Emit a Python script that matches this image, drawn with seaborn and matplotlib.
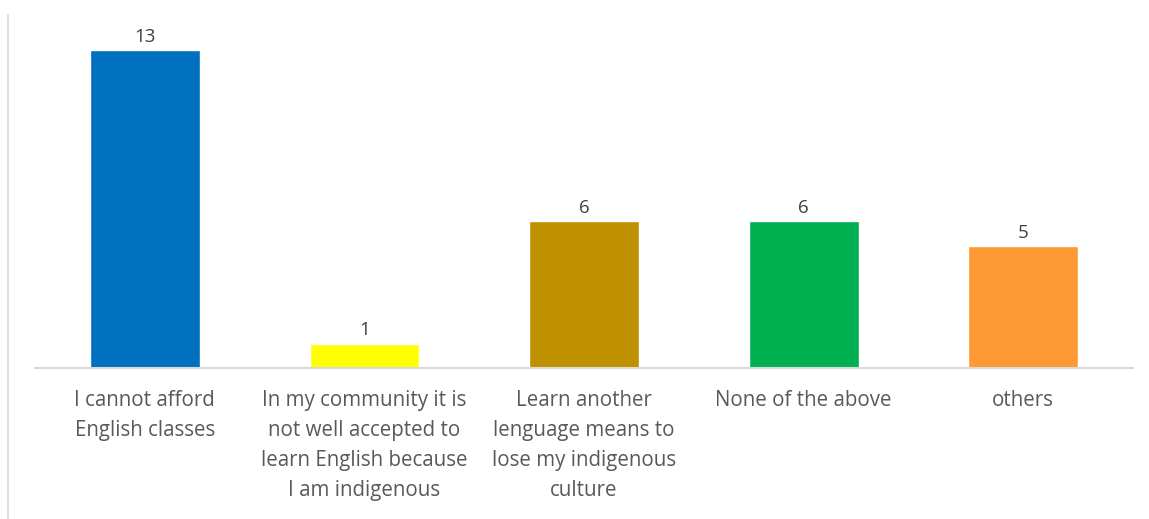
import matplotlib
matplotlib.use("Agg")
import matplotlib.pyplot as plt
import seaborn as sns
import pandas as pd
from matplotlib.lines import Line2D

categories = [
    "I cannot afford\nEnglish classes",
    "In my community it is\nnot well accepted to\nlearn English because\nI am indigenous",
    "Learn another\nlenguage means to\nlose my indigenous\nculture",
    "None of the above",
    "others",
]
values = [13, 1, 6, 6, 5]
colors = ["#0070C0", "#FFFF00", "#BF9000", "#00B050", "#FF9933"]

sns.set_theme(style="white")
plt.rcParams['font.family'] = ['Open Sans', 'DejaVu Sans']

df = pd.DataFrame({"cat": categories, "val": values})

fig = plt.figure(figsize=(11.49, 5.19), dpi=100)
ax = fig.add_axes([35/1149, 1 - 368/519, 1098/1149, (368 - 25.5)/519])
sns.barplot(data=df, x="cat", y="val", hue="cat", palette=colors, width=0.5,
            legend=False, ax=ax, saturation=1)
ax.set_xlim(-0.5, 4.5)
ax.set_ylim(0, 14)
for c in ax.containers:
    ax.bar_label(c, padding=3, fontsize=13.5, color="#404040")
ax.set_xlabel("")
ax.set_ylabel("")
ax.set_yticks([])
ax.set_xticks(range(len(categories)), labels=categories, linespacing=1.56,
              fontsize=14.8, color="#595959", va="top")
for s in ["top", "right", "left"]:
    ax.spines[s].set_visible(False)
ax.spines["bottom"].set_color("#D9D9D9")
ax.spines["bottom"].set_linewidth(1.5)
ax.tick_params(axis="x", length=0, pad=16)

fig.add_artist(Line2D([8/1149, 8/1149], [0, 1 - 15/519], color="#D9D9D9", lw=1.2))

fig.savefig("out.png", dpi=100)
